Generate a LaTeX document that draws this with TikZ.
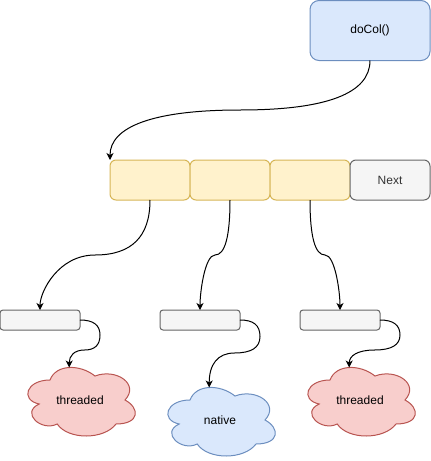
\documentclass[tikz,border=0pt]{standalone}
\usepackage{fontspec}
\setmainfont{Liberation Sans}
\usetikzlibrary{arrows.meta}
\definecolor{bluefill}{HTML}{DAE8FC}
\definecolor{bluedraw}{HTML}{6C8EBF}
\definecolor{yelfill}{HTML}{FFF2CC}
\definecolor{yeldraw}{HTML}{D6B656}
\definecolor{grayfill}{HTML}{F5F5F5}
\definecolor{graydraw}{HTML}{666666}
\definecolor{graytext}{HTML}{333333}
\definecolor{redfill}{HTML}{F8CECC}
\definecolor{reddraw}{HTML}{B85450}
\tikzset{
  box/.style={draw, line width=1pt, inner sep=0pt, outer sep=0pt, font=\fontsize{12}{14}\selectfont},
  bluebox/.style={box, fill=bluefill, draw=bluedraw, minimum width=120pt, minimum height=60pt, rounded corners=9pt},
  yelbox/.style={box, fill=yelfill, draw=yeldraw, minimum width=80pt, minimum height=40pt, rounded corners=6pt},
  nextbox/.style={box, fill=grayfill, draw=graydraw, text=graytext, minimum width=80pt, minimum height=40pt, rounded corners=6pt},
  smallbox/.style={box, fill=grayfill, draw=graydraw, minimum width=80pt, minimum height=20pt, rounded corners=3pt},
  conn/.style={line width=1pt, -{Stealth[length=7pt,width=7pt,inset=2pt]}},
  lbl/.style={inner sep=0pt, font=\fontsize{12}{14}\selectfont},
  cloudshape/.style={line width=1pt},
}
\begin{document}
\begin{tikzpicture}[x=1pt, y=-1pt]
\useasboundingbox (0,0) rectangle (431,461);

% doCol box
\node[bluebox] (d) at (370,30.5) {doCol()};

% yellow row
\node[yelbox] (y1) at (150,180) {};
\node[yelbox] (y2) at (230,180) {};
\node[yelbox] (y3) at (310,180) {};
\node[nextbox] (nx) at (390,180) {Next};

% small boxes
\node[smallbox] (s1) at (40,320) {};
\node[smallbox] (s2) at (200,320) {};
\node[smallbox] (s3) at (340,320) {};

% clouds (bbox 120x80)
\foreach \ox/\oy/\fc/\dc in {20/360/redfill/reddraw, 160/380/bluefill/bluedraw, 300/360/redfill/reddraw}{
  \begin{scope}[shift={(\ox,\oy)}]
  \draw[cloudshape, fill=\fc, draw=\dc]
    (30,20) .. controls (6,20) and (0,40) .. (19.2,44)
    .. controls (0,52.8) and (21.6,72) .. (37.2,64)
    .. controls (48,80) and (84,80) .. (96,64)
    .. controls (120,64) and (120,48) .. (105,40)
    .. controls (120,24) and (96,8) .. (75,16)
    .. controls (60,4) and (36,4) .. (30,20) -- cycle;
  \end{scope}
}
\node[lbl] (c1) at (80,400) {threaded};
\node[lbl] (c2) at (220,420) {native};
\node[lbl] (c3) at (360,400) {threaded};
\coordinate (c1t) at (69.2,367.5);
\coordinate (c2t) at (209.2,387.5);
\coordinate (c3t) at (349.2,367.5);

% doCol -> first cell
\draw[conn] (d.south) .. controls (370,93.33) and (326.67,110) .. (240,110)
  .. controls (153.33,110) and (110,126.67) .. (y1.north west);

% cells -> small boxes
\draw[conn] (y1.south) .. controls (150,236.67) and (131.67,255) .. (95,255)
  .. controls (58.33,255) and (40,291.67) .. (s1.north);
\draw[conn] (y2.south) .. controls (230,236.67) and (225,255) .. (215,255)
  .. controls (205,255) and (200,291.67) .. (s2.north);
\draw[conn] (y3.south) .. controls (310,236.67) and (315,255) .. (325,255)
  .. controls (335,255) and (340,291.67) .. (s3.north);

% small boxes -> clouds
\draw[conn] (s1.east) .. controls (93.33,320) and (100,325) .. (100,335)
  .. controls (100,345) and (94.83,350) .. (84.5,350)
  .. controls (74.17,350) and (69.2,355.83) .. (c1t);
\draw[conn] (s2.east) .. controls (253.33,320) and (260,325) .. (260,336.5)
  .. controls (260,347.5) and (251.5,353) .. (234.5,353)
  .. controls (217.5,353) and (209.2,364.5) .. (c2t);
\draw[conn] (s3.east) .. controls (393.33,320) and (400,325) .. (400,335)
  .. controls (400,345) and (391.5,350) .. (374.5,350)
  .. controls (357.5,350) and (349.2,355.83) .. (c3t);
\end{tikzpicture}
\end{document}
